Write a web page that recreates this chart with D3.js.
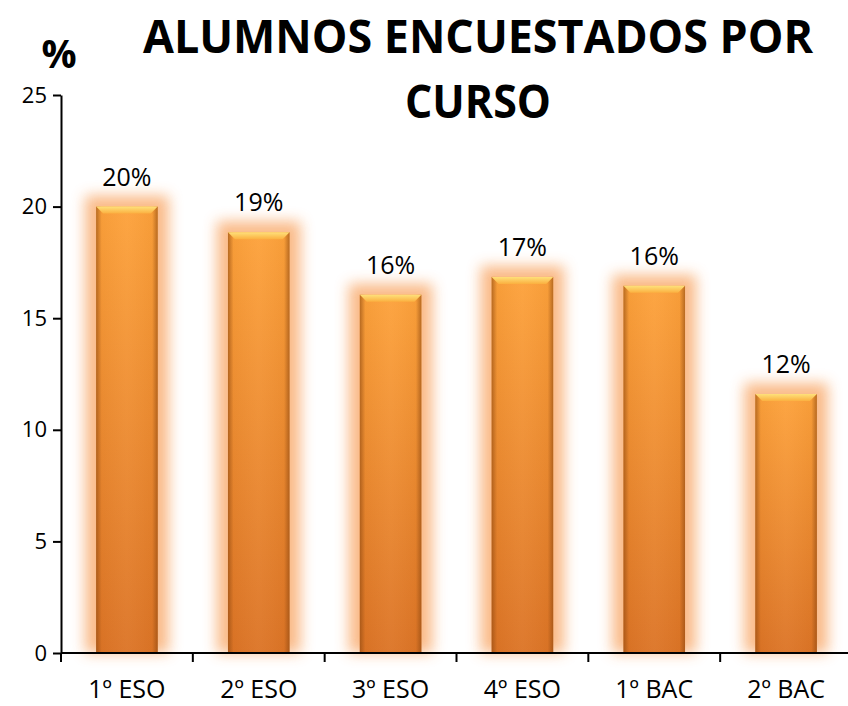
<!DOCTYPE html>
<html>
<head>
<meta charset="utf-8">
<script src="https://cdn.jsdelivr.net/npm/d3@7"></script>
<style>
  body { margin: 0; background: #fff; }
  text { font-family: "Open Sans", "DejaVu Sans", sans-serif; }
</style>
</head>
<body>
<div id="chart"></div>
<script>
// data
const cursos = ["1º ESO", "2º ESO", "3º ESO", "4º ESO", "1º BAC", "2º BAC"]
const porcentajes = [20.0, 18.85, 16.05, 16.85, 16.45, 11.6]
const etiquetas = ["20%", "19%", "16%", "17%", "16%", "12%"]
const yTicks = [0, 5, 10, 15, 20, 25]

const width = 848, height = 706
const margin = { top: 95, right: -4, bottom: 53, left: 61 }

const svg = d3.select("#chart")
  .append("svg")
  .attr("width", width)
  .attr("height", height)

const defs = svg.append("defs")

// vertical body gradient
const gBody = defs.append("linearGradient").attr("id", "body").attr("x1", 0).attr("y1", 0).attr("x2", 0).attr("y2", 1)
gBody.append("stop").attr("offset", "0%").attr("stop-color", "#fda23b")
gBody.append("stop").attr("offset", "100%").attr("stop-color", "#dc7426")

// darker side edges
const gSide = defs.append("linearGradient").attr("id", "side").attr("x1", 0).attr("y1", 0).attr("x2", 1).attr("y2", 0)
gSide.append("stop").attr("offset", "0%").attr("stop-color", "#8a4610").attr("stop-opacity", 0.6)
gSide.append("stop").attr("offset", "9%").attr("stop-color", "#8a4610").attr("stop-opacity", 0.05)
gSide.append("stop").attr("offset", "50%").attr("stop-color", "#ffffff").attr("stop-opacity", 0.04)
gSide.append("stop").attr("offset", "91%").attr("stop-color", "#8a4610").attr("stop-opacity", 0.05)
gSide.append("stop").attr("offset", "100%").attr("stop-color", "#8a4610").attr("stop-opacity", 0.6)

// top bevel
const gTop = defs.append("linearGradient").attr("id", "bevel").attr("x1", 0).attr("y1", 0).attr("x2", 0).attr("y2", 1)
gTop.append("stop").attr("offset", "0%").attr("stop-color", "#fee07a")
gTop.append("stop").attr("offset", "100%").attr("stop-color", "#fbb040")

defs.append("filter").attr("id", "glow")
  .attr("x", "-50%").attr("y", "-50%").attr("width", "200%").attr("height", "200%")
  .append("feGaussianBlur").attr("stdDeviation", 7)

const x = d3.scaleBand()
  .domain(cursos)
  .range([margin.left, width - margin.right])
  .paddingInner(0.533)
  .paddingOuter(0.2665)

const y = d3.scaleLinear()
  .domain([0, 25])
  .range([height - margin.bottom, margin.top])

const data = cursos.map((c, i) => ({ curso: c, valor: porcentajes[i], etiqueta: etiquetas[i] }))

// bars
const bars = svg.append("g").selectAll("g")
  .data(data)
  .join("g")

bars.append("rect")
  .attr("x", d => x(d.curso) - 11)
  .attr("y", d => y(d.valor) - 11)
  .attr("width", x.bandwidth() + 22)
  .attr("height", d => y(0) - y(d.valor) + 11)
  .attr("fill", "#f9b37c")
  .attr("opacity", 0.9)
  .attr("filter", "url(#glow)")

bars.append("rect")
  .attr("x", d => x(d.curso))
  .attr("y", d => y(d.valor))
  .attr("width", x.bandwidth())
  .attr("height", d => y(0) - y(d.valor))
  .attr("fill", "url(#body)")

bars.append("rect")
  .attr("x", d => x(d.curso))
  .attr("y", d => y(d.valor))
  .attr("width", x.bandwidth())
  .attr("height", d => y(0) - y(d.valor))
  .attr("fill", "url(#side)")

const bev = 7
bars.append("path")
  .attr("d", d => {
    const x0 = x(d.curso), x1 = x0 + x.bandwidth(), t = y(d.valor)
    return `M${x0},${t}L${x1},${t}L${x1 - bev},${t + bev}L${x0 + bev},${t + bev}Z`
  })
  .attr("fill", "url(#bevel)")

// value labels
bars.append("text")
  .attr("x", d => x(d.curso) + x.bandwidth() / 2)
  .attr("y", d => y(d.valor) - 21)
  .attr("text-anchor", "middle")
  .style("font-size", "25px")
  .attr("fill", "#000")
  .text(d => d.etiqueta)

// y axis
const yAxis = svg.append("g")
  .attr("transform", `translate(${margin.left},0)`)
  .call(d3.axisLeft(y).tickValues(yTicks).tickSize(8).tickSizeOuter(0).tickPadding(6))
yAxis.select(".domain").attr("stroke", "#000").attr("stroke-width", 2)
yAxis.selectAll(".tick line").attr("stroke", "#000").attr("stroke-width", 2)
yAxis.selectAll(".tick text")
  .style("font-size", "22px")
  .style("font-family", "'Open Sans', sans-serif")
  .attr("fill", "#000")

// x axis
const xAxis = svg.append("g")
  .attr("transform", `translate(0,${y(0)})`)
xAxis.append("line")
  .attr("x1", margin.left)
  .attr("x2", width)
  .attr("stroke", "#000")
  .attr("stroke-width", 2)

const bounds = cursos.map(c => x(c) - x.step() * x.paddingInner() / 2)
xAxis.selectAll(".xt")
  .data(bounds)
  .join("line")
  .attr("x1", d => d)
  .attr("x2", d => d)
  .attr("y1", 0)
  .attr("y2", 9)
  .attr("stroke", "#000")
  .attr("stroke-width", 2)

xAxis.selectAll(".xl")
  .data(cursos)
  .join("text")
  .attr("x", d => x(d) + x.bandwidth() / 2)
  .attr("y", 45)
  .attr("text-anchor", "middle")
  .style("font-size", "25px")
  .attr("fill", "#000")
  .text(d => d)

// axis unit
svg.append("text")
  .attr("x", 59)
  .attr("y", 68)
  .attr("text-anchor", "middle")
  .style("font-size", "39px")
  .style("font-weight", "bold")
  .text("%")

// title
svg.append("text")
  .attr("x", 478)
  .attr("y", 53)
  .attr("text-anchor", "middle")
  .attr("textLength", 670)
  .attr("lengthAdjust", "spacingAndGlyphs")
  .style("font-size", "46px")
  .style("font-weight", "bold")
  .text("ALUMNOS ENCUESTADOS POR")

svg.append("text")
  .attr("x", 478)
  .attr("y", 118)
  .attr("text-anchor", "middle")
  .attr("textLength", 146)
  .attr("lengthAdjust", "spacingAndGlyphs")
  .style("font-size", "46px")
  .style("font-weight", "bold")
  .text("CURSO")
</script>
</body>
</html>
